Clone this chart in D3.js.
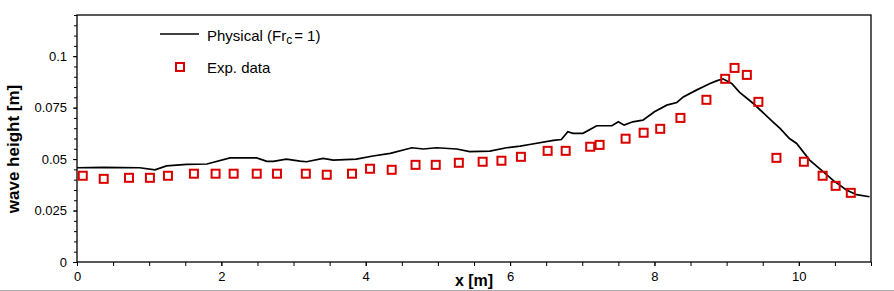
<!DOCTYPE html>
<html>
<head>
<meta charset="utf-8">
<script src="https://cdn.jsdelivr.net/npm/d3@7"></script>
<style>
  body { margin: 0; background: #fff; }
  svg { display: block; font-family: Arial, "Liberation Sans", sans-serif; }
</style>
</head>
<body>
<script>
// numerical result (black line), x in m, wave height in m
const simX = [0, 0.36, 0.87, 1.08, 1.24, 1.52, 1.80, 2.12, 2.49, 2.63, 2.72, 2.90, 3.09,
  3.18, 3.41, 3.55, 3.87, 4.10, 4.34, 4.64, 4.80, 4.98, 5.26, 5.44, 5.72, 5.95, 6.14,
  6.27, 6.60, 6.71, 6.80, 6.87, 7.01, 7.20, 7.41, 7.50, 7.58, 7.70, 7.84, 8.00, 8.17,
  8.31, 8.40, 8.58, 8.77, 8.86, 8.95, 9.07, 9.18, 9.37, 9.64, 9.74, 9.87, 9.97, 10.15,
  10.34, 10.48, 10.66, 10.80, 10.98];
const simH = [0.0458, 0.0460, 0.0458, 0.0448, 0.0467, 0.0474, 0.0476, 0.0506, 0.0506, 0.0489, 0.0489, 0.0500, 0.0490,
  0.0487, 0.0503, 0.0495, 0.0500, 0.0515, 0.0528, 0.0555, 0.0549, 0.0555, 0.0549, 0.0536, 0.0539, 0.0555, 0.0563,
  0.0571, 0.0591, 0.0595, 0.0633, 0.0625, 0.0625, 0.0662, 0.0662, 0.0681, 0.0665, 0.0681, 0.0689, 0.0730, 0.0762,
  0.0775, 0.0802, 0.0835, 0.0867, 0.0880, 0.0890, 0.0867, 0.0824, 0.0770, 0.0681, 0.0649, 0.0600, 0.0576, 0.0495,
  0.0438, 0.0395, 0.0350, 0.0327, 0.0317];

// experimental data (red squares)
const expX = [0.08, 0.37, 0.72, 1.01, 1.26, 1.62, 1.92, 2.17, 2.49, 2.77,
  3.17, 3.46, 3.81, 4.06, 4.36, 4.69, 4.97, 5.29, 5.62, 5.88, 6.15,
  6.52, 6.77, 7.11, 7.24, 7.60, 7.85, 8.08, 8.36, 8.72,
  8.98, 9.11, 9.28, 9.44, 9.69, 10.07, 10.33, 10.51, 10.72];
const expH = [0.0419, 0.0404, 0.0409, 0.0409, 0.0419, 0.0429, 0.0429, 0.0429, 0.0429, 0.0429,
  0.0429, 0.0424, 0.0429, 0.0453, 0.0448, 0.0472, 0.0472, 0.0482, 0.0487, 0.0492, 0.0511,
  0.0540, 0.0540, 0.0560, 0.0569, 0.0599, 0.0628, 0.0647, 0.0700, 0.0788,
  0.0890, 0.0943, 0.0909, 0.0778, 0.0506, 0.0487, 0.0419, 0.0370, 0.0336];

const xTicks = [0, 2, 4, 6, 8, 10];
const yTicks = [0, 0.025, 0.05, 0.075, 0.1];
const yTickLabels = ['0', '0.025', '0.05', '0.075', '0.1'];

const width = 894, height = 291;
const plot = { left: 77, right: 871, top: 15, bottom: 262 };

const svg = d3.select('body').append('svg')
  .attr('width', width)
  .attr('height', height);

const xScale = d3.scaleLinear().domain([0, 11]).range([plot.left, plot.right]);
const yScale = d3.scaleLinear().domain([0, 0.12]).range([plot.bottom, plot.top]);

// frame
svg.append('rect')
  .attr('x', plot.left).attr('y', plot.top)
  .attr('width', plot.right - plot.left).attr('height', plot.bottom - plot.top)
  .attr('fill', 'none').attr('stroke', '#000').attr('stroke-width', 1.3);

// minor ticks
svg.append('g')
  .attr('transform', `translate(0,${plot.bottom})`)
  .call(d3.axisBottom(xScale).tickValues(d3.range(0, 11.01, 0.5)).tickSize(4).tickFormat(''))
  .call(g => g.select('.domain').remove());
svg.append('g')
  .attr('transform', `translate(${plot.left},0)`)
  .call(d3.axisLeft(yScale).tickValues(d3.range(0, 0.1201, 0.005)).tickSize(3).tickFormat(''))
  .call(g => g.select('.domain').remove());

// major ticks + labels
const xAxis = svg.append('g')
  .attr('transform', `translate(0,${plot.bottom})`)
  .call(d3.axisBottom(xScale).tickValues(xTicks).tickSize(4).tickFormat(d3.format('d')));
xAxis.select('.domain').remove();
xAxis.selectAll('text').attr('font-size', 13).attr('font-family', 'Arial').attr('dy', '0.95em').attr('fill', '#000');

const yAxis = svg.append('g')
  .attr('transform', `translate(${plot.left},0)`)
  .call(d3.axisLeft(yScale).tickValues(yTicks).tickSize(4).tickFormat((d, i) => yTickLabels[i]));
yAxis.select('.domain').remove();
yAxis.selectAll('text').attr('font-size', 13).attr('font-family', 'Arial').attr('x', -10).attr('fill', '#000');

// axis titles
svg.append('text')
  .attr('x', 474).attr('y', 286)
  .attr('text-anchor', 'middle')
  .attr('font-size', 16).attr('font-weight', 'bold')
  .text('x [m]');

svg.append('text')
  .attr('transform', 'translate(19,149) rotate(-90)')
  .attr('text-anchor', 'middle')
  .attr('font-size', 17).attr('font-weight', 'bold')
  .text('wave height [m]');

// simulated line
const line = d3.line()
  .x((d, i) => xScale(simX[i]))
  .y(d => yScale(d));
svg.append('path')
  .datum(simH)
  .attr('d', line)
  .attr('fill', 'none')
  .attr('stroke', '#000')
  .attr('stroke-width', 1.7);

// experimental squares
const sq = 8;
svg.append('g').selectAll('rect')
  .data(expH)
  .enter()
  .append('rect')
  .attr('x', (d, i) => xScale(expX[i]) - sq / 2)
  .attr('y', d => yScale(d) - sq / 2)
  .attr('width', sq).attr('height', sq)
  .attr('fill', 'none')
  .attr('stroke', '#d90000')
  .attr('stroke-width', 2);

// legend
svg.append('line')
  .attr('x1', 160).attr('x2', 199).attr('y1', 34).attr('y2', 34)
  .attr('stroke', '#000').attr('stroke-width', 1.7);
const lt = svg.append('text')
  .attr('x', 207).attr('y', 41)
  .attr('font-size', 15);
lt.append('tspan').text('Physical (Fr');
lt.append('tspan').attr('font-size', 12).attr('dy', 3).text('c');
lt.append('tspan').attr('dy', -3).attr('dx', 2).text('= 1)');

svg.append('rect')
  .attr('x', 180 - sq / 2).attr('y', 67 - sq / 2)
  .attr('width', sq).attr('height', sq)
  .attr('fill', 'none').attr('stroke', '#d90000').attr('stroke-width', 2);
svg.append('text')
  .attr('x', 207).attr('y', 73)
  .attr('font-size', 15)
  .text('Exp. data');

// grey bottom border
svg.append('line')
  .attr('x1', 0).attr('x2', width).attr('y1', 290.5).attr('y2', 290.5)
  .attr('stroke', '#a8a8a8').attr('stroke-width', 1);
</script>
</body>
</html>
